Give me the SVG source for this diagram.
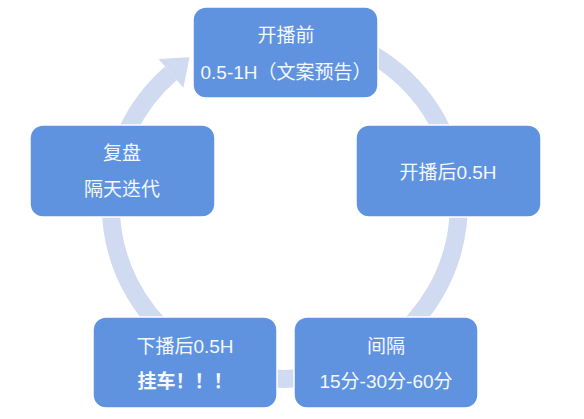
<svg xmlns="http://www.w3.org/2000/svg" width="584" height="419" viewBox="0 0 584 419">
  <style>
    .node rect { fill: #6093DF; stroke: #FFFFFF; stroke-width: 1.5; }
    .node text { fill: #F5F8FD; font-family: "Liberation Sans", "Noto Sans CJK SC", sans-serif; font-size: 19px; text-anchor: middle; }
    .node text.b { font-weight: bold; }
    .ring { fill: none; stroke: #D0DAF0; stroke-width: 18; }
    .head { fill: #D0DAF0; }
  </style>
  <rect x="0" y="0" width="584" height="419" fill="#FFFFFF"/>
  <g id="connectors">
    <path class="ring" d="M344.5,41.5 A174,174 0 1 1 171,73.3"/>
    <polygon class="head" points="189.5,57.3 158.6,58.9 183.4,87.7"/>
  </g>
  <g id="node-top" class="node">
    <rect x="193" y="7" width="185" height="91" rx="13"/>
    <text x="286" y="42">开播前</text>
    <text x="286" y="79">0.5-1H（文案预告）</text>
  </g>
  <g id="node-right" class="node">
    <rect x="356" y="125" width="185" height="92" rx="13"/>
    <text x="448" y="179">开播后0.5H</text>
  </g>
  <g id="node-bottom-right" class="node">
    <rect x="294" y="317" width="184" height="91" rx="13"/>
    <text x="386" y="353">间隔</text>
    <text x="386" y="388">15分-30分-60分</text>
  </g>
  <g id="node-bottom-left" class="node">
    <rect x="93" y="317" width="184" height="91" rx="13"/>
    <text x="185" y="353">下播后0.5H</text>
    <text class="b" x="185" y="388">挂车！！！</text>
  </g>
  <g id="node-left" class="node">
    <rect x="30" y="125" width="185" height="92" rx="13"/>
    <text x="122" y="160">复盘</text>
    <text x="122" y="196">隔天迭代</text>
  </g>
</svg>
